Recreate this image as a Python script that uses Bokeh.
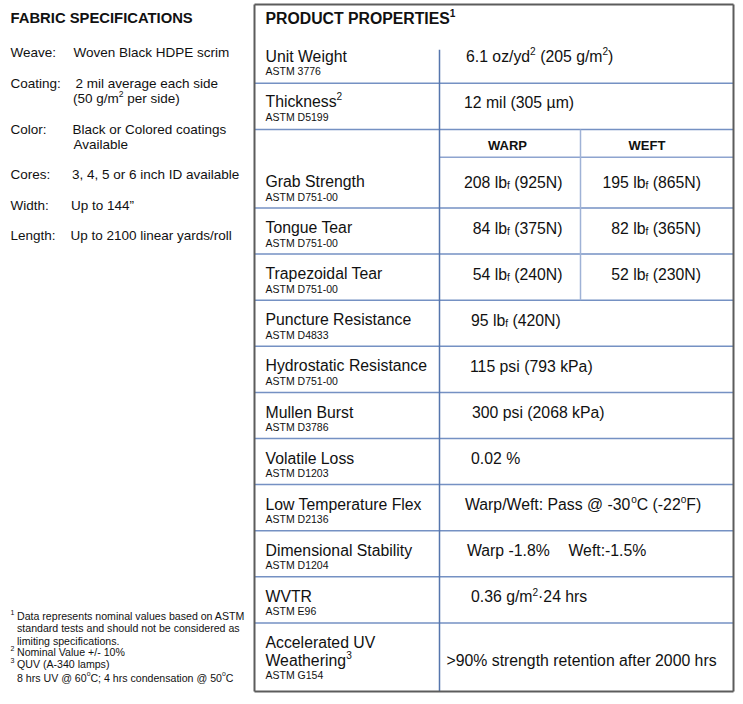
from bokeh.plotting import figure
from bokeh.models import Range1d
from bokeh.embed import file_html
from bokeh.resources import INLINE
from bokeh.core.properties import value

# ---------------- data ----------------
fabric_title = "FABRIC SPECIFICATIONS"
fabric_labels = ["Weave:", "Coating:", "Color:", "Cores:", "Width:", "Length:"]
# segments: (text, kind) with kind "n" normal, "sup" superscript, "sub" subscript
fabric_values = [
    [[("Woven Black HDPE scrim", "n")]],
    [[("2 mil average each side", "n")], [("(50 g/m", "n"), ("2", "sup"), (" per side)", "n")]],
    [[("Black or Colored coatings", "n")], [("Available", "n")]],
    [[("3, 4, 5 or 6 inch ID available", "n")]],
    [[("Up to 144\u201d", "n")]],
    [[("Up to 2100 linear yards/roll", "n")]],
]

table_title = [("PRODUCT PROPERTIES", "n"), ("1", "sup")]
top_props = [[("Unit Weight", "n")], [("Thickness", "n"), ("2", "sup")]]
top_astm = ["ASTM 3776", "ASTM D5199"]
top_values = [
    [("6.1 oz/yd", "n"), ("2", "sup"), (" (205 g/m", "n"), ("2", "sup"), (")", "n")],
    [("12 mil (305 \u00b5m)", "n")],
]

dir_headers = ["WARP", "WEFT"]
dir_props = ["Grab Strength", "Tongue Tear", "Trapezoidal Tear"]
dir_astm = ["ASTM D751-00", "ASTM D751-00", "ASTM D751-00"]
warp_lbf = [208, 84, 54]
warp_newton = [925, 375, 240]
weft_lbf = [195, 82, 52]
weft_newton = [865, 365, 230]

puncture_prop = "Puncture Resistance"
puncture_astm = "ASTM D4833"
puncture_lbf = 95
puncture_newton = 420

props = ["Hydrostatic Resistance", "Mullen Burst", "Volatile Loss",
         "Low Temperature Flex", "Dimensional Stability", "WVTR"]
props_astm = ["ASTM D751-00", "ASTM D3786", "ASTM D1203",
              "ASTM D2136", "ASTM D1204", "ASTM E96"]
props_values = [
    [("115 psi (793 kPa)", "n")],
    [("300 psi (2068 kPa)", "n")],
    [("0.02 %", "n")],
    [("Warp/Weft: Pass @ -30", "n"), ("o", "sup"), ("C (-22", "n"), ("o", "sup"), ("F)", "n")],
    [("Warp -1.8%", "n")],
    [("0.36 g/m", "n"), ("2", "sup"), ("\u00b724 hrs", "n")],
]
dimensional_weft = "Weft:-1.5%"

uv_prop = [[("Accelerated UV", "n")], [("Weathering", "n"), ("3", "sup")]]
uv_astm = "ASTM G154"
uv_value = ">90% strength retention after 2000 hrs"

footnote_marks = ["1", "2", "3"]
footnote_lines = [
    [("Data represents nominal values based on ASTM", "n")],
    [("standard tests and should not be considered as", "n")],
    [("limiting specifications.", "n")],
    [("Nominal Value +/- 10%", "n")],
    [("QUV (A-340 lamps)", "n")],
    [("8 hrs UV @ 60", "n"), ("o", "sup"), ("C; 4 hrs condensation @ 50", "n"), ("o", "sup"), ("C", "n")],
]

# ---------------- layout / style ----------------
FONT = "Liberation Sans"
TXT = "#111111"
W, H = 743, 704
p = figure(width=W, height=H, output_backend="svg", toolbar_location=None,
           x_range=Range1d(0, W), y_range=Range1d(H, 0),
           x_axis_location=None, y_axis_location=None, min_border=0,
           background_fill_color="white", border_fill_color="white",
           outline_line_color=None, tools="")
p.grid.visible = False

groups = {}


def put(txt, x, y, size, bold=False, align="left"):
    key = (round(size, 2), bold, align)
    g = groups.setdefault(key, {"x": [], "y": [], "t": []})
    g["x"].append(x)
    g["y"].append(y)
    g["t"].append(txt)


# Arial / Liberation Sans advance widths (1/1000 em)
ADV = {" ": 278, "!": 278, "%": 889, "(": 333, ")": 333, "+": 584, ",": 278, "-": 333,
       ".": 278, "/": 278, ":": 278, ";": 278, ">": 584, "@": 1015, "\u00b7": 278,
       "\u00b5": 556, "\u201d": 333,
       "A": 667, "B": 667, "C": 722, "D": 722, "E": 667, "F": 611, "G": 778, "H": 722,
       "I": 278, "J": 500, "K": 667, "L": 556, "M": 833, "N": 722, "O": 778, "P": 667,
       "Q": 778, "R": 722, "S": 667, "T": 611, "U": 722, "V": 667, "W": 944, "X": 667,
       "Y": 667, "Z": 611,
       "a": 556, "b": 556, "c": 500, "d": 556, "e": 556, "f": 278, "g": 556, "h": 556,
       "i": 222, "j": 222, "k": 500, "l": 222, "m": 833, "n": 556, "o": 556, "p": 556,
       "q": 556, "r": 333, "s": 500, "t": 278, "u": 556, "v": 500, "w": 722, "x": 500,
       "y": 500, "z": 500}
for d in "0123456789":
    ADV[d] = 556
ADV_B = dict(ADV)
ADV_B.update({"A": 722, "B": 722, "C": 722, "D": 722, "E": 667, "F": 611, "I": 278,
              "N": 722, "O": 778, "P": 667, "R": 722, "S": 667, "T": 611, "U": 722,
              "W": 944})


def width(s, size, bold=False):
    t = ADV_B if bold else ADV
    return sum(t.get(c, 556) for c in s) * size / 1000.0


SUPF = 0.64


def rich(segs, x, y, size, bold=False, align="left"):
    def seg_size(kind):
        return size if kind == "n" else size * SUPF
    total = sum(width(t, seg_size(k), bold) for t, k in segs)
    cur = x - total if align == "right" else x
    for t, k in segs:
        s = seg_size(k)
        lead = len(t) - len(t.lstrip(" "))
        cur += width(" " * lead, s, bold)
        t2 = t.lstrip(" ")
        if k == "sup":
            yy = y - 0.34 * size
        elif k == "sub":
            yy = y + 0.2 * size
        else:
            yy = y
        if t2:
            put(t2, cur, yy, s, bold)
        cur += width(t2, s, bold)


VAL = 15.8
LAB = 15.8
AST = 10.5
LEFT = 13.5


def lbf(lb, n, x, y, align="left"):
    rich([(f"{lb} lb", "n"), ("f", "sub"), (f" ({n}N)", "n")], x, y, VAL, align=align)


# left column
put(fabric_title, 10, 17, 14.8, bold=True)
fab_y = [51.5, 82.5, 128.5, 174, 204.5, 235]
fab_vx = [[73], [75, 72.5], [72, 73], [71.5], [70.5], [70]]
for lab, vals, y, vxs in zip(fabric_labels, fabric_values, fab_y, fab_vx):
    put(lab, 10, y, LEFT)
    for i, (segs, vx) in enumerate(zip(vals, vxs)):
        rich(segs, vx, y + 15.5 * i, LEFT)

# footnotes
fn_y = [615, 627.5, 640, 651.5, 663, 677]
for i, segs in enumerate(footnote_lines):
    rich(segs, 16.5, fn_y[i], 10.6)
for mark, idx in zip(footnote_marks, [0, 3, 4]):
    put(mark, 10, fn_y[idx] - 3.5, 7)

# table frame
L, R, T, B = 254, 733, 4, 691
VX, DX = 439, 580
LX = 265
rich(table_title, LX, 17.5, 15.8, bold=True)

row_y0, pitch = 181, 46.1
hy = [82.7, 129] + [207.5 + pitch * k for k in range(10)]
p.segment(x0=[L] * len(hy), x1=[R] * len(hy), y0=hy, y1=hy,
          line_color="#7591c3", line_width=1.5)
p.segment(x0=[VX], x1=[R], y0=[156.7], y1=[156.7], line_color="#8ea4cf", line_width=1.5)
p.segment(x0=[VX], x1=[VX], y0=[49.3], y1=[B], line_color="#5676ad", line_width=1.5)
p.segment(x0=[DX], x1=[DX], y0=[129], y1=[hy[4]], line_color="#9fb2d6", line_width=1.5)
p.segment(x0=[L, R, L, L], x1=[R, R, R, L], y0=[T, T, B, T], y1=[T, B, B, B],
          line_color="#5c5c5c", line_width=2)

# top rows
top_y = [55.7, 101]
top_vx = [465.5, 463.5]
for name, a, v, y, vx in zip(top_props, top_astm, top_values, top_y, top_vx):
    rich(name, LX, y, LAB)
    put(a, LX, y + 15, AST)
    rich(v, vx, y + 0.5, VAL)

for h, cx in zip(dir_headers, [507, 646.5]):
    put(h, cx, 145, 13, bold=True, align="center")

ys = [row_y0 + pitch * k for k in range(11)]
for k, (name, a) in enumerate(zip(dir_props, dir_astm)):
    y = ys[k]
    put(name, LX, y, LAB)
    put(a, LX, y + 15, AST)
    lbf(warp_lbf[k], warp_newton[k], 562, y + 0.5, align="right")
    lbf(weft_lbf[k], weft_newton[k], 700.5, y + 0.5, align="right")

y = ys[3]
put(puncture_prop, LX, y, LAB)
put(puncture_astm, LX, y + 15, AST)
lbf(puncture_lbf, puncture_newton, 470.5, y + 0.5)

prop_vx = [469.5, 471.5, 470.5, 464.5, 466.5, 470.5]
for k, (name, a, v, vx) in enumerate(zip(props, props_astm, props_values, prop_vx)):
    y = ys[4 + k]
    put(name, LX, y, LAB)
    put(a, LX, y + 15, AST)
    rich(v, vx, y + 0.5, VAL)
    if name == "Dimensional Stability":
        put(dimensional_weft, 568, y + 0.5, VAL)

rich(uv_prop[0], LX, 641.7, LAB)
rich(uv_prop[1], LX, 660, LAB)
put(uv_astm, LX, 674.5, AST)
put(uv_value, 446, 660, VAL)

for (size, bold, align), g in groups.items():
    p.text(x=g["x"], y=g["y"], text=g["t"], text_font=value(FONT),
           text_font_size=f"{size}px", text_font_style="bold" if bold else "normal",
           text_align=align, text_baseline="middle", text_color=TXT)

open("out.html", "w").write(file_html(p, INLINE))
